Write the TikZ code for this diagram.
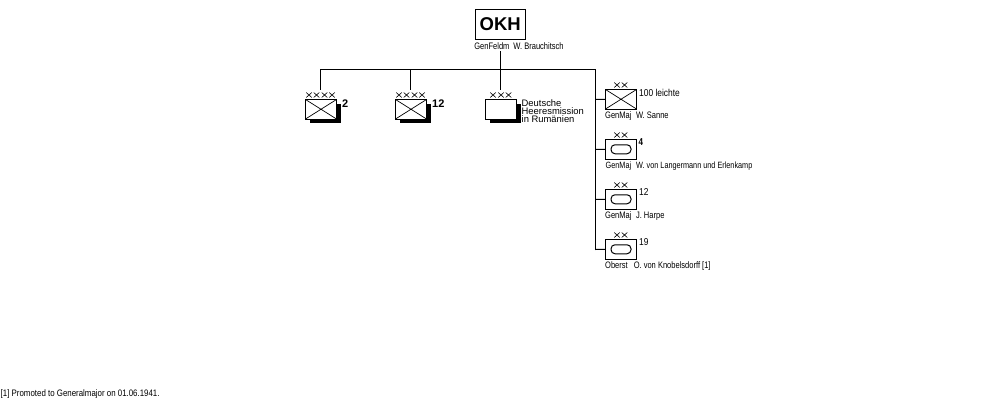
\documentclass[tikz,border=0pt]{standalone}
\usepackage{fontspec}
\setmainfont{Liberation Sans}
\newfontfamily\narrowfont[FakeStretch=0.80]{Liberation Sans}
\newfontfamily\midfont[FakeStretch=0.84]{Liberation Sans}
\tikzset{
  x=1pt,y=-1pt,
  link/.style={draw=black,line width=1pt},
  unitbox/.style={draw=black,line width=1pt,fill=white,minimum width=31pt,minimum height=19.5pt,inner sep=0pt,outer sep=0pt,anchor=north west},
  smalltext/.style={font=\fontsize{9.4}{9.4}\selectfont\narrowfont,inner sep=0pt,anchor=west,text=black},
  cmdtext/.style={smalltext},
  numbold/.style={font=\fontsize{11}{11}\selectfont\bfseries,inner sep=0pt,anchor=west},
  numplain/.style={font=\fontsize{10}{10}\selectfont\midfont,inner sep=0pt,anchor=west},
  mark x/.pic={\draw[line width=.6pt] (-2.8,-2.5)--(2.8,2.5) (-2.8,2.5)--(2.8,-2.5);}
}
% Echelon crosses above a unit box
\newcommand{\echelon}[2]{\foreach \ex in {#2}{\pic at (\ex,#1) {mark x};}}
% Box with saltire (infantry) and with oval (armour)
\newcommand{\saltire}[1]{\draw[line width=.7pt] (#1.north west)--(#1.south east) (#1.north east)--(#1.south west);}
\newcommand{\armour}[1]{\node[draw=black,line width=1pt,rounded corners=4pt,minimum width=20pt,minimum height=9pt,inner sep=0pt,outer sep=0pt] at (#1.center) {};}
\begin{document}
\begin{tikzpicture}
\useasboundingbox (0,0) rectangle (1000,400);
\fill[white] (0,0) rectangle (1000,400);

% Supreme command
\node[draw=black,line width=1pt,minimum width=49.5pt,minimum height=30pt,inner sep=0pt,outer sep=0pt,font=\fontsize{18.5}{18.5}\selectfont\bfseries] (okh) at (500.25,24.5) {OKH};
\node[smalltext,anchor=center] (okhcmd) at (519,46) {GenFeldm\hspace{4pt}W. Brauchitsch};

% Main connector rail
\coordinate (hub) at (500.5,69);
\coordinate (railL) at (320.5,69);
\coordinate (railM) at (410.5,69);
\coordinate (railR) at (595.5,69);
\coordinate (dropL) at (320.5,90);
\coordinate (dropM) at (410.5,90);
\coordinate (dropH) at (500.5,90);
\coordinate (railEnd) at (595.5,249.5);
\coordinate (cmdFoot) at (500.5,51);
\draw[link] (cmdFoot) -- (hub);
\draw[link] (railL) -- (railR);
\draw[link] (railL) -- (dropL);
\draw[link] (railM) -- (dropM);
\draw[link] (hub) -- (dropH);
\draw[link] (railR) -- (railEnd);

% Armies and the mission
\foreach \nm/\bx in {armyA/305.5,armyB/395.5,mission/485.5}{
  \fill[black] (\bx+4,103.5) rectangle (\bx+35,122.5);
  \node[unitbox] (\nm) at (\bx,99.5) {};
}
\saltire{armyA}
\saltire{armyB}
\echelon{95}{309,316.5,324.5,332}
\echelon{95}{399,406.5,414.5,422}
\echelon{95}{493,501,508.5}
\node[numbold] (numA) at (342,103.5) {2};
\node[numbold] (numB) at (432,103.5) {12};
\node[font=\fontsize{9.4}{8}\selectfont,inner sep=0pt,align=left,anchor=north west] (mtext) at (521.5,99.5) {Deutsche\\Heeresmission\\in Rumänien};

% Divisions along the right-hand rail
\node[unitbox] (divA) at (605.5,89.5) {};
\node[unitbox] (divB) at (605.5,139.5) {};
\node[unitbox] (divC) at (605.5,189.5) {};
\node[unitbox] (divD) at (605.5,239.5) {};
\coordinate (tapA) at (595.5,99.5);
\coordinate (tapB) at (595.5,149.5);
\coordinate (tapC) at (595.5,199.5);
\draw[link] (tapA) -- (divA.west);
\draw[link] (tapB) -- (divB.west);
\draw[link] (tapC) -- (divC.west);
\draw[link] (railEnd) -- (divD.west);
\saltire{divA}
\armour{divB}
\armour{divC}
\armour{divD}
\echelon{85}{617,624.5}
\echelon{135}{617,624.5}
\echelon{185}{617,624.5}
\echelon{235}{617,624.5}

\node[numplain] (nA) at (639,92.5) {100 leichte};
\node[numplain,font=\fontsize{10}{10}\selectfont\bfseries\narrowfont] (nB) at (638.5,142.5) {4};
\node[numplain] (nC) at (639,192.5) {12};
\node[numplain] (nD) at (639,242.5) {19};

\node[cmdtext] (cA) at (605,116.5) {GenMaj\hspace{4.5pt}W. Sanne};
\node[cmdtext,font=\fontsize{9.1}{9.1}\selectfont\narrowfont] (cB) at (605.5,166.5) {GenMaj\hspace{5pt}W. von Langermann und Erlenkamp};
\node[cmdtext] (cC) at (605,216.5) {GenMaj\hspace{4.5pt}J. Harpe};
\node[cmdtext] (cD) at (605,266.5) {Oberst\hspace{6pt}O. von Knobelsdorff [1]};

% Footnote
\node[smalltext,font=\fontsize{9.4}{9.4}\selectfont\midfont] (note) at (0.5,394.5) {[1] Promoted to Generalmajor on 01.06.1941.};
\end{tikzpicture}
\end{document}
